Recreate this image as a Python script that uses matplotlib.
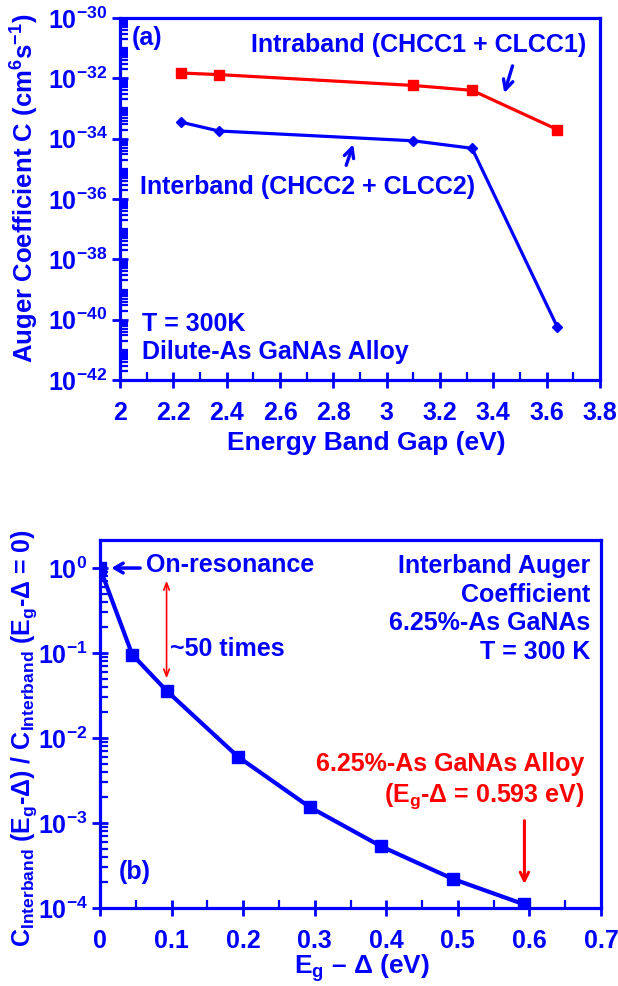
import matplotlib
matplotlib.use('Agg')
import matplotlib.pyplot as plt
import numpy as np
from matplotlib.ticker import FixedLocator

plt.rcParams['font.family'] = ['Liberation Sans', 'DejaVu Sans']
plt.rcParams['font.weight'] = 'bold'
plt.rcParams['mathtext.fontset'] = 'custom'
plt.rcParams['mathtext.rm'] = 'Liberation Sans:bold'
plt.rcParams['mathtext.it'] = 'Liberation Sans:bold'
plt.rcParams['mathtext.bf'] = 'Liberation Sans:bold'
plt.rcParams['mathtext.sf'] = 'Liberation Sans:bold'

BLUE = '#0000FF'
RED = '#FF0000'

# ---------------- data ----------------
energy_gap = [2.23, 2.37, 3.10, 3.32, 3.64]
c_intraband = [1.5e-32, 1.33e-32, 5.8e-33, 4.0e-33, 2.0e-34]
c_interband = [3.5e-34, 1.8e-34, 8.5e-35, 4.8e-35, 5.7e-41]
top_xticks = [2.0, 2.2, 2.4, 2.6, 2.8, 3.0, 3.2, 3.4, 3.6, 3.8]
top_xticklabels = ['2', '2.2', '2.4', '2.6', '2.8', '3', '3.2', '3.4', '3.6', '3.8']
top_yexps = [-42, -40, -38, -36, -34, -32, -30]

detuning = [0.0, 0.045, 0.093, 0.193, 0.293, 0.393, 0.493, 0.593]
ratio = [1.0, 0.096, 0.036, 0.006, 0.00154, 5.3e-4, 2.2e-4, 1.1e-4]
bot_xticks = [0.0, 0.1, 0.2, 0.3, 0.4, 0.5, 0.6, 0.7]
bot_xticklabels = ['0', '0.1', '0.2', '0.3', '0.4', '0.5', '0.6', '0.7']
bot_yexps = [-4, -3, -2, -1, 0]

W, H = 618, 986
fig = plt.figure(figsize=(W / 100, H / 100), dpi=100)


def style_axes(ax):
    for sp in ax.spines.values():
        sp.set_color(BLUE)
        sp.set_linewidth(2.3)
    ax.tick_params(which='major', direction='inout', length=12, width=2,
                   color=BLUE, labelcolor=BLUE, labelsize=18)
    ax.tick_params(which='minor', direction='in', length=6, width=1.6, color=BLUE)
    ax.tick_params(axis='y', which='major', pad=3)
    ax.tick_params(axis='x', which='major', pad=9)


def log_minors(exp_lo, exp_hi, majors):
    vals = []
    for e in range(exp_lo, exp_hi):
        for k in range(1, 10):
            v = k * 10.0 ** e
            if k == 1 and e in majors:
                continue
            vals.append(v)
    return vals

# ---------------- panel (a) ----------------
ax1 = fig.add_axes([120 / W, 1 - 380 / H, 480 / W, 362 / H])
ax1.set_yscale('log')
ax1.plot(energy_gap, c_intraband, color=RED, lw=2.3, marker='s', ms=7.5, zorder=3)
ax1.plot(energy_gap, c_interband, color=BLUE, lw=2.3, marker='D', ms=5.6, zorder=3)
ax1.set_xlim(2.0, 3.8)
ax1.set_ylim(1e-42, 1e-30)
ax1.set_xticks(top_xticks)
ax1.set_xticklabels(top_xticklabels)
ax1.xaxis.set_minor_locator(FixedLocator([x + 0.1 for x in top_xticks[:-1]]))
ax1.set_yticks([10.0 ** e for e in top_yexps])
ax1.set_yticklabels([r'$10^{%d}$' % e for e in top_yexps])
ax1.yaxis.set_minor_locator(FixedLocator(log_minors(-42, -30, top_yexps)))
ax1.yaxis.set_minor_formatter(plt.NullFormatter())
style_axes(ax1)

ax1.text(2.1, 10 ** -30.65, '(a)', color=BLUE, fontsize=18, ha='center', va='center')
ax1.text(3.747, 10 ** -30.9, 'Intraband (CHCC1 + CLCC1)', color=BLUE, fontsize=18,
         ha='right', va='center')
ax1.text(2.705, 10 ** -35.6, 'Interband (CHCC2 + CLCC2)', color=BLUE, fontsize=18,
         ha='center', va='center')
ax1.text(2.083, 10 ** -40.13, 'T = 300K', color=BLUE, fontsize=18, ha='left', va='center')
ax1.text(2.083, 10 ** -41.06, 'Dilute-As GaNAs Alloy', color=BLUE, fontsize=18,
         ha='left', va='center')
ax1.annotate('', xy=(3.438, 10 ** -32.58), xytext=(3.475, 10 ** -31.5),
             arrowprops=dict(arrowstyle='->,head_length=0.7,head_width=0.35',
                             color=BLUE, lw=2.4))
ax1.annotate('', xy=(2.878, 10 ** -34.1), xytext=(2.845, 10 ** -34.97),
             arrowprops=dict(arrowstyle='->,head_length=0.7,head_width=0.35',
                             color=BLUE, lw=2.4))

# ---------------- panel (b) ----------------
ax2 = fig.add_axes([100 / W, 1 - 908 / H, 501 / W, 368 / H])
ax2.set_yscale('log')
ax2.plot(detuning, ratio, color=BLUE, lw=3, marker='s', ms=8.5, zorder=3)
ax2.set_xlim(0, 0.7)
ax2.set_ylim(1e-4, 10 ** 0.33)
ax2.set_xticks(bot_xticks)
ax2.set_xticklabels(bot_xticklabels)
ax2.xaxis.set_minor_locator(FixedLocator([x + 0.05 for x in bot_xticks[:-1]]))
ax2.set_yticks([10.0 ** e for e in bot_yexps])
ax2.set_yticklabels([r'$10^{%d}$' % e for e in bot_yexps])
ax2.yaxis.set_minor_locator(FixedLocator(log_minors(-4, 1, bot_yexps)[:-8]))
ax2.yaxis.set_minor_formatter(plt.NullFormatter())
style_axes(ax2)

ax2.text(0.064, 10 ** 0.04, 'On-resonance', color=BLUE, fontsize=18, ha='left', va='center')
ax2.annotate('', xy=(0.012, 1.0), xytext=(0.06, 1.0),
             arrowprops=dict(arrowstyle='->,head_length=0.6,head_width=0.35',
                             color=BLUE, lw=2.5))
ax2.text(0.098, 10 ** -0.947, '~50 times', color=BLUE, fontsize=18, ha='left', va='center')
ax2.annotate('', xy=(0.093, 10 ** -1.33), xytext=(0.093, 10 ** -0.118),
             arrowprops=dict(arrowstyle='<->,head_length=0.5,head_width=0.2',
                             color=RED, lw=1.2))
block = ['Interband Auger', 'Coefficient', '6.25%-As GaNAs', 'T = 300 K']
block_y = [0.02, -0.316, -0.65, -0.986]
for s, yy in zip(block, block_y):
    ax2.text(0.685, 10 ** yy, s, color=BLUE, fontsize=18, ha='right', va='center')
ax2.text(0.677, 10 ** -2.306, '6.25%-As GaNAs Alloy', color=RED, fontsize=18,
         ha='right', va='center')
ax2.text(0.677, 10 ** -2.68, r'(E$_g$-Δ = 0.593 eV)', color=RED, fontsize=18,
         ha='right', va='center')
ax2.annotate('', xy=(0.593, 10 ** -3.75), xytext=(0.593, 10 ** -2.94),
             arrowprops=dict(arrowstyle='->,head_length=0.6,head_width=0.3',
                             color=RED, lw=2.2))
ax2.text(0.049, 10 ** -3.58, '(b)', color=BLUE, fontsize=18, ha='center', va='center')

# ---------------- axis labels ----------------
fig.text(366 / W, 1 - 443 / H, 'Energy Band Gap (eV)', color=BLUE, fontsize=19,
         ha='center', va='center')
fig.text(25 / W, 1 - 188 / H, r'Auger Coefficient C (cm$^{6}$s$^{-1}$)', color=BLUE,
         fontsize=18.5, ha='center', va='center', rotation=90)
fig.text(362 / W, 1 - 968 / H, r'E$_g$ – Δ (eV)', color=BLUE, fontsize=19,
         ha='center', va='center')
fig.text(24 / W, 1 - 738 / H,
         r'C$_{Interband}$ (E$_g$-Δ) / C$_{Interband}$ (E$_g$-Δ = 0)',
         color=BLUE, fontsize=18, ha='center', va='center', rotation=90)

fig.savefig('out.png', dpi=100)
